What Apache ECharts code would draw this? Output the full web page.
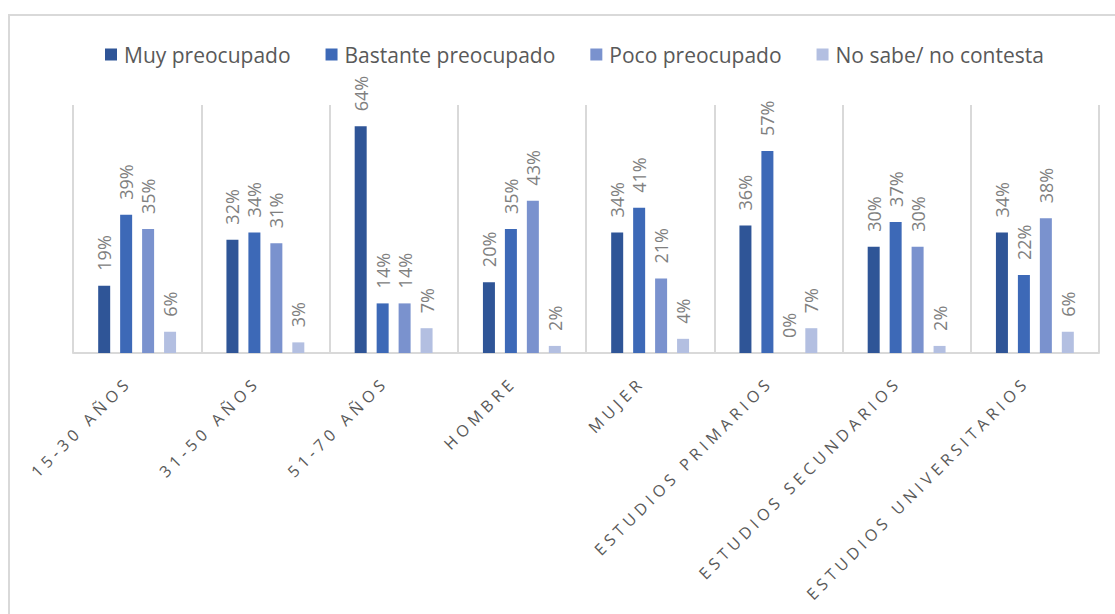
<!DOCTYPE html>
<html>
<head>
<meta charset="utf-8">
<script src="https://cdn.jsdelivr.net/npm/echarts@6/dist/echarts.min.js"></script>
<style>
html,body{margin:0;padding:0;background:#fff;}
#c{width:1115px;height:614px;}
</style>
</head>
<body>
<div id="c"></div>
<script>
const categories = ['15-30 AÑOS','31-50 AÑOS','51-70 AÑOS','HOMBRE','MUJER','ESTUDIOS PRIMARIOS','ESTUDIOS SECUNDARIOS','ESTUDIOS UNIVERSITARIOS'];
const seriesNames = ['Muy preocupado','Bastante preocupado','Poco preocupado','No sabe/ no contesta'];
const muyPreocupado      = [19, 32, 64, 20, 34, 36, 30, 34];
const bastantePreocupado = [39, 34, 14, 35, 41, 57, 37, 22];
const pocoPreocupado     = [35, 31, 14, 43, 21, 0, 30, 38];
const noSabe             = [6, 3, 7, 2, 4, 7, 2, 6];
const values = [muyPreocupado, bastantePreocupado, pocoPreocupado, noSabe];
const colors = ['#2F5597', '#3D69B7', '#7A92CE', '#B3BFE1'];

const chart = echarts.init(document.getElementById('c'), null, {renderer: 'svg'});
const font = "'Open Sans', sans-serif";
chart.setOption({
  animation: false,
  backgroundColor: '#fff',
  graphic: [{
    type: 'rect', z: -10, silent: true,
    shape: {x: 9, y: 15, width: 1200, height: 700},
    style: {fill: 'none', stroke: '#d9d9d9', lineWidth: 2}
  }],
  legend: {
    left: 100, top: 39,
    itemWidth: 12, itemHeight: 12, itemGap: 35,
    icon: 'rect',
    textStyle: {fontFamily: font, fontSize: 21, color: '#595959', padding: [0, 0, 0, 2]},
    data: seriesNames
  },
  grid: {left: 73, right: 16, top: 105, bottom: 261, containLabel: false},
  xAxis: {
    type: 'category', data: categories, boundaryGap: true,
    axisLine: {lineStyle: {color: '#d9d9d9', width: 2}},
    axisTick: {show: false},
    splitLine: {show: true, lineStyle: {color: '#d9d9d9', width: 2}},
    axisLabel: {rotate: 45, interval: 0, margin: 18, fontFamily: font, fontSize: 16, color: '#595959',
      padding: [0, 12, 24, 0]}
  },
  yAxis: {
    type: 'value', min: 0, max: 70, interval: 10, show: false,
    splitLine: {show: false}
  },
  series: values.map((v, i) => ({
    name: seriesNames[i], type: 'bar', data: v,
    barWidth: 12, barGap: '83%',
    itemStyle: {color: colors[i]},
    label: {
      show: true, position: 'top', rotate: 90, align: 'left', verticalAlign: 'middle',
      distance: 15, formatter: '{c}%', fontFamily: font, fontSize: 18, color: '#808080'
    }
  }))
});

function spaceLabels() {
  const set = new Set(categories);
  document.querySelectorAll('#c svg text').forEach(t => {
    if (set.has(t.textContent.trim())) t.style.letterSpacing = '4.5px';
  });
}
spaceLabels();
chart.on('finished', spaceLabels);
</script>
</body>
</html>
